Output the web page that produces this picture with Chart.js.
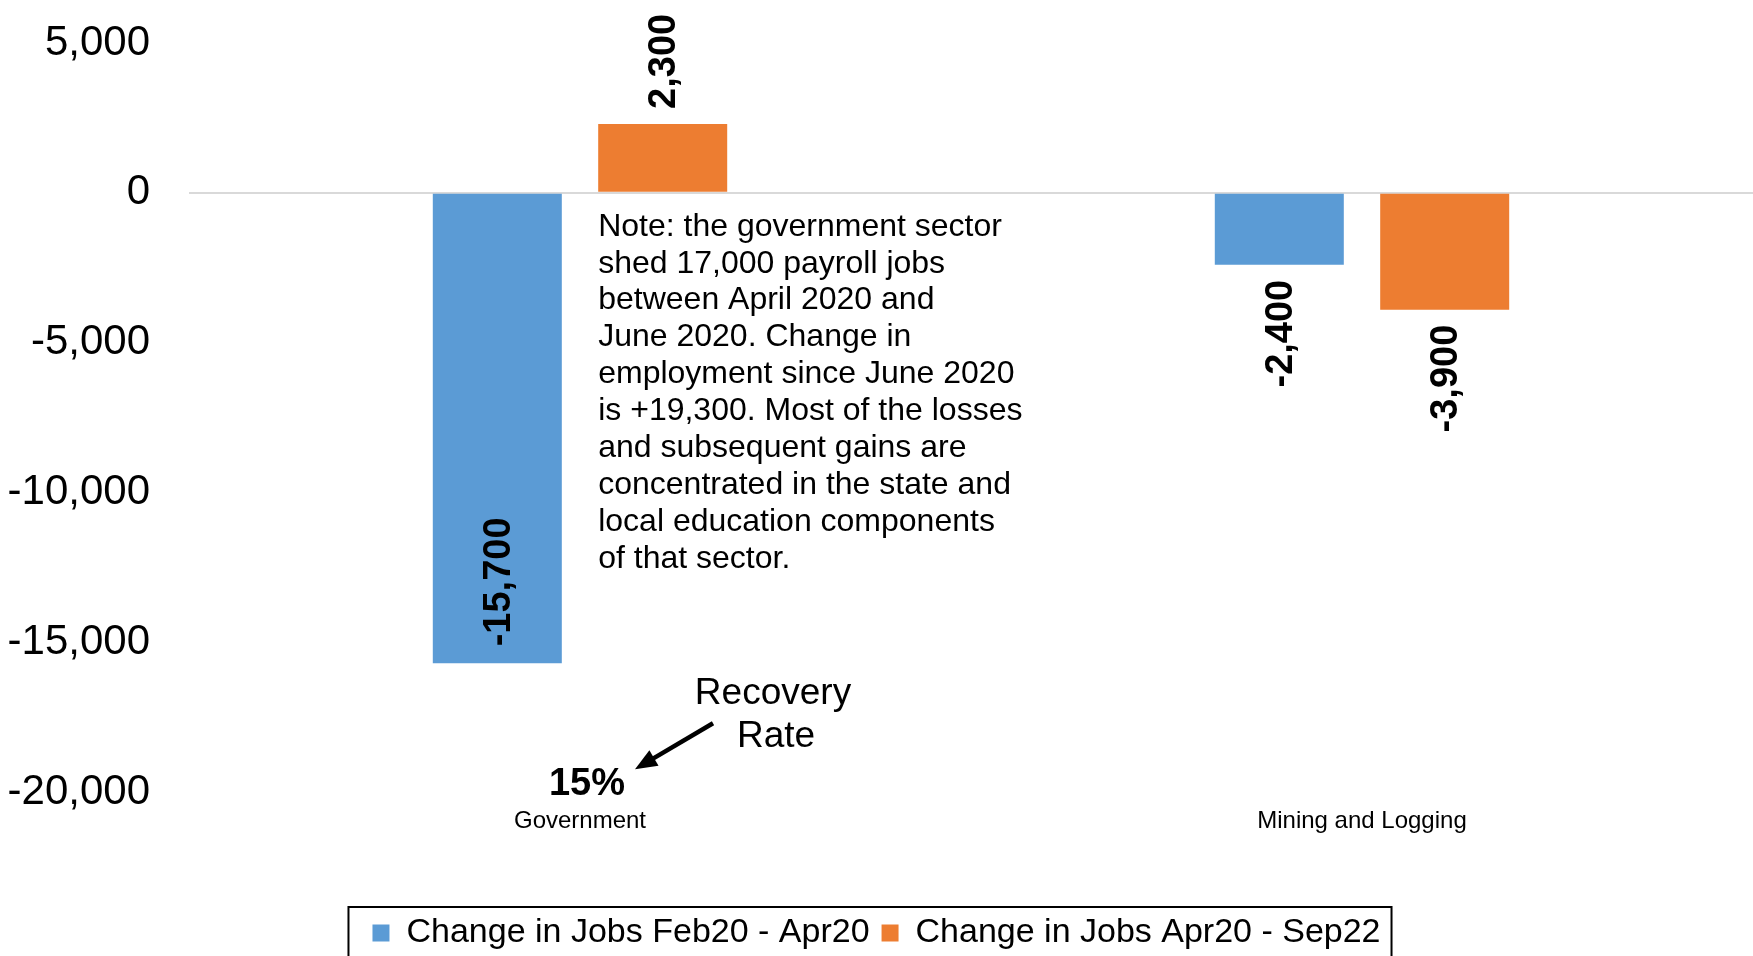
<!DOCTYPE html>
<html>
<head>
<meta charset="utf-8">
<script src="https://cdn.jsdelivr.net/npm/chart.js@4.4.1/dist/chart.umd.min.js"></script>
<style>
html, body { margin: 0; padding: 0; background: #fff; overflow: hidden; }
canvas { display: block; }
</style>
</head>
<body>
<canvas id="mycanvas" width="1753" height="960"></canvas>
<script>
// data
var categories = ['Government', 'Mining and Logging'];
var jobsFeb20Apr20 = [-15700, -2400];
var jobsApr20Sep22 = [2300, -3900];
var seriesNames = ['Change in Jobs Feb20 - Apr20', 'Change in Jobs Apr20 - Sep22'];
var recoveryRate = ['15%', ''];
var yMin = -20000, yMax = 5000, yStep = 5000;
var noteLines = [
	'Note: the government sector',
	'shed 17,000 payroll jobs',
	'between April 2020 and',
	'June 2020. Change in',
	'employment since June 2020',
	'is +19,300. Most of the losses',
	'and subsequent gains are',
	'concentrated in the state and',
	'local education components',
	'of that sector.'
];

var FONT = "'Liberation Sans', Arial, sans-serif";

function fmt(v) {
	return Number(v).toLocaleString('en-US');
}

var extras = {
	id: 'extras',
	afterDatasetsDraw: function(chart) {
		var ctx = chart.ctx;
		ctx.save();
		ctx.fillStyle = '#000';
		ctx.font = 'bold 38px ' + FONT;
		ctx.textBaseline = 'middle';
		chart.data.datasets.forEach(function(ds, di) {
			var meta = chart.getDatasetMeta(di);
			meta.data.forEach(function(bar, i) {
				var v = ds.data[i];
				var txt = fmt(v);
				var w = ctx.measureText(txt).width;
				var len = Math.abs(bar.base - bar.y);
				var x = bar.x, y, align;
				if (v >= 0) {
					y = bar.y - 15; align = 'left';
				} else if (len > w + 40) {
					y = bar.y - 17; align = 'left';
				} else {
					y = bar.y + 15; align = 'right';
				}
				ctx.save();
				ctx.translate(x, y);
				ctx.rotate(-Math.PI / 2);
				ctx.textAlign = align;
				ctx.fillText(txt, 0, 2);
				ctx.restore();
			});
		});
		ctx.restore();
	},
	afterDraw: function(chart) {
		var ctx = chart.ctx;
		var xs = chart.scales.x, ys = chart.scales.y;
		var zero = ys.getPixelForValue(0);
		var bottom = ys.getPixelForValue(yMin);
		var gx = xs.getPixelForValue(0);
		var orange = chart.getDatasetMeta(1).data[0];
		ctx.save();
		ctx.fillStyle = '#000';

		// note
		ctx.font = '32px ' + FONT;
		ctx.textAlign = 'left';
		ctx.textBaseline = 'middle';
		var nx = orange.x - orange.width / 2;
		noteLines.forEach(function(l, k) {
			ctx.fillText(l, nx, zero + 34 + k * 36.9);
		});

		// recovery rate
		ctx.font = '37px ' + FONT;
		ctx.textAlign = 'center';
		ctx.fillText('Recovery', gx + 193, bottom - 98);
		ctx.fillText('Rate', gx + 196, bottom - 55);

		ctx.font = 'bold 38px ' + FONT;
		ctx.fillText(recoveryRate[0], gx + 7, bottom - 8);

		// arrow
		var x1 = gx + 133, y1 = bottom - 69, x2 = gx + 55, y2 = bottom - 23;
		var a = Math.atan2(y2 - y1, x2 - x1);
		ctx.strokeStyle = '#000';
		ctx.lineWidth = 4.5;
		ctx.beginPath();
		ctx.moveTo(x1, y1);
		ctx.lineTo(x2 - 14 * Math.cos(a), y2 - 14 * Math.sin(a));
		ctx.stroke();
		ctx.beginPath();
		ctx.moveTo(x2, y2);
		ctx.lineTo(x2 - 22 * Math.cos(a) + 9 * Math.sin(a), y2 - 22 * Math.sin(a) - 9 * Math.cos(a));
		ctx.lineTo(x2 - 22 * Math.cos(a) - 9 * Math.sin(a), y2 - 22 * Math.sin(a) + 9 * Math.cos(a));
		ctx.closePath();
		ctx.fill();

		// legend frame
		var hb = chart.legend.legendHitBoxes;
		if (hb && hb.length) {
			var l = hb[0].left - 24;
			var r = hb[hb.length - 1].left + hb[hb.length - 1].width + 11;
			var t = hb[0].top - 9;
			ctx.lineWidth = 2;
			ctx.strokeRect(l, t, r - l, chart.height + 20 - t);
		}
		ctx.restore();
	}
};

var chartdata = {
	labels: categories,
	datasets: [
		{
			label: seriesNames[0],
			backgroundColor: '#5B9BD5',
			borderWidth: 0,
			data: jobsFeb20Apr20
		},
		{
			label: seriesNames[1],
			backgroundColor: '#ED7D31',
			borderWidth: 0,
			data: jobsApr20Sep22
		}
	]
};

var ctx = document.getElementById('mycanvas');

var BarGraph = new Chart(ctx, {
	type: 'bar',
	data: chartdata,
	plugins: [extras],
	options: {
		responsive: false,
		animation: false,
		devicePixelRatio: 1,
		categoryPercentage: 0.423,
		barPercentage: 0.78,
		layout: { padding: { top: 43, right: 0, bottom: 0, left: 0 } },
		plugins: {
			tooltip: { enabled: false },
			legend: {
				position: 'bottom',
				title: { display: true, text: '', font: { size: 10 }, padding: { top: 41, bottom: 0 } },
				labels: {
					color: '#000',
					font: { family: FONT, size: 34 },
					boxWidth: 17,
					boxHeight: 17,
					padding: 12
				}
			}
		},
		scales: {
			x: {
				grid: { display: false, drawTicks: false },
				border: { display: false },
				ticks: { color: '#000', font: { family: FONT, size: 24 }, padding: 15 }
			},
			y: {
				min: yMin,
				max: yMax,
				afterFit: function(scale) {
					scale.width = 189;
					scale.paddingTop = 0;
					scale.paddingBottom = 0;
				},
				grid: {
					drawTicks: false,
					lineWidth: 2,
					color: function(c) { return c.tick && c.tick.value === 0 ? '#d9d9d9' : 'rgba(0,0,0,0)'; }
				},
				border: { display: false },
				ticks: {
					stepSize: yStep,
					color: '#000',
					padding: 39,
					font: { family: FONT, size: 42 },
					callback: function(v) { return fmt(v); }
				}
			}
		}
	}
});
</script>
</body>
</html>
